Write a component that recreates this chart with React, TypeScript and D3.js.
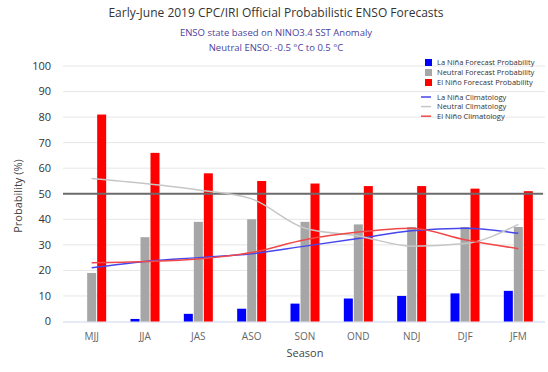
import React from 'react';
import * as d3 from 'd3';

const WIDTH = 548;
const HEIGHT = 372;
const PLOT = { left: 65, right: 545, top: 66, bottom: 321.5 };
const FONT = '"Open Sans", "DejaVu Sans", sans-serif';

const seasons = ['MJJ', 'JJA', 'JAS', 'ASO', 'SON', 'OND', 'NDJ', 'DJF', 'JFM'];
const yTicks = [0, 10, 20, 30, 40, 50, 60, 70, 80, 90, 100];

// forecast probabilities (%)
const laNina = [0, 1, 3, 5, 7, 9, 10, 11, 12];
const neutral = [19, 33, 39, 40, 39, 38, 37, 37, 37];
const elNino = [81, 66, 58, 55, 54, 53, 53, 52, 51];

// climatology (%)
const laNinaClim = [21, 23.5, 25, 26.5, 29.5, 32.5, 35.5, 36.5, 34.5];
const neutralClim = [56, 54, 51.5, 48, 36.5, 33.5, 29.5, 30.5, 38];
const elNinoClim = [23, 23.5, 24.5, 27, 32, 35, 36.5, 32, 28.5];

const barSeries = [
  { key: 'laNina', label: 'La Niña Forecast Probability', color: '#0000ff', values: laNina },
  { key: 'neutral', label: 'Neutral Forecast Probability', color: '#a6a6a6', values: neutral },
  { key: 'elNino', label: 'El Niño Forecast Probability', color: '#ff0000', values: elNino }
];

const lineSeries = [
  { key: 'laNinaClim', label: 'La Niña Climatology', color: '#4646ee', values: laNinaClim },
  { key: 'neutralClim', label: 'Neutral Climatology', color: '#c6c6c6', values: neutralClim },
  { key: 'elNinoClim', label: 'El Niño Climatology', color: '#f04848', values: elNinoClim }
];

export default function App() {
  const x = d3.scaleBand<string>().domain(seasons).range([PLOT.left, PLOT.right]).padding(0);
  const inner = d3.scaleBand<string>()
    .domain(barSeries.map((s) => s.key))
    .range([-15, 15])
    .paddingInner(0.1)
    .paddingOuter(0.05);
  const y = d3.scaleLinear().domain([0, 100]).range([PLOT.bottom, PLOT.top]);
  const cx = (s: string) => (x(s) as number) + x.bandwidth() / 2;

  const line = (vals: number[]) =>
    d3.line<number>()
      .x((_, i) => cx(seasons[i]))
      .y((v) => y(v))
      .curve(d3.curveMonotoneX)(vals) as string;

  return (
    <div style={{ position: 'absolute', left: 0, top: 0 }}>
      <svg width={WIDTH} height={HEIGHT} style={{ display: 'block', background: '#fff', fontFamily: FONT }}>
        {/* titles */}
        <text x={276} y={17} textAnchor='middle' fontSize={12} fill='#333'>
          Early-June 2019 CPC/IRI Official Probabilistic ENSO Forecasts
        </text>
        <text x={276} y={36} textAnchor='middle' fontSize={9.5} fill='#4b3f9e'>
          ENSO state based on NINO3.4 SST Anomaly
        </text>
        <text x={276} y={51} textAnchor='middle' fontSize={9.5} fill='#4b3f9e'>
          Neutral ENSO: -0.5 °C to 0.5 °C
        </text>

        {/* grid */}
        {yTicks.map((t) => (
          <g key={t}>
            {t > 0 && <line x1={63} x2={PLOT.right} y1={y(t)} y2={y(t)} stroke='#e6e6e6' strokeWidth={1} />}
            <text x={51} y={y(t)} dy='0.35em' textAnchor='end' fontSize={11} fill='#333'>{t}</text>
          </g>
        ))}
        <line x1={63} x2={PLOT.right} y1={y(0) + 0.5} y2={y(0) + 0.5} stroke='#ccd6eb' strokeWidth={1} />

        {/* bars */}
        {seasons.map((s, i) => (
          <g key={s} transform={`translate(${cx(s)},0)`}>
            {barSeries.map((b) => (
              <rect
                key={b.key}
                x={inner(b.key) as number}
                y={y(b.values[i])}
                width={inner.bandwidth()}
                height={y(0) - y(b.values[i])}
                fill={b.color}
              />
            ))}
          </g>
        ))}

        {/* 50% reference line */}
        <line x1={63} x2={PLOT.right - 2} y1={y(50)} y2={y(50)} stroke='#6b6b6b' strokeWidth={2} />

        {/* climatology lines */}
        {lineSeries.map((l) => (
          <path key={l.key} d={line(l.values)} fill='none' stroke={l.color} strokeWidth={1.5} />
        ))}

        {/* x axis labels */}
        {seasons.map((s) => (
          <text key={s} x={cx(s)} y={336} dy='0.35em' textAnchor='middle' fontSize={10} fill='#666'>{s}</text>
        ))}
        <text x={305} y={353} dy='0.35em' textAnchor='middle' fontSize={11} fill='#444'>Season</text>
        <text transform='translate(18,196) rotate(-90)' dy='0.35em' textAnchor='middle' fontSize={11} fill='#444'>
          Probability (%)
        </text>

        {/* legend */}
        {barSeries.map((b, i) => (
          <g key={b.key} transform={`translate(425,${62.5 + i * 10})`}>
            <rect x={0} y={-3.5} width={7} height={7} fill={b.color} />
            <text x={12} y={0} dy='0.35em' fontSize={7.5} fill='#333'>{b.label}</text>
          </g>
        ))}
        {lineSeries.map((l, i) => (
          <g key={l.key} transform={`translate(421,${97 + i * 9.6})`}>
            <line x1={0} x2={10} y1={0} y2={0} stroke={l.color} strokeWidth={1.5} />
            <text x={16} y={0} dy='0.35em' fontSize={7.5} fill='#333'>{l.label}</text>
          </g>
        ))}
      </svg>
    </div>
  );
}
